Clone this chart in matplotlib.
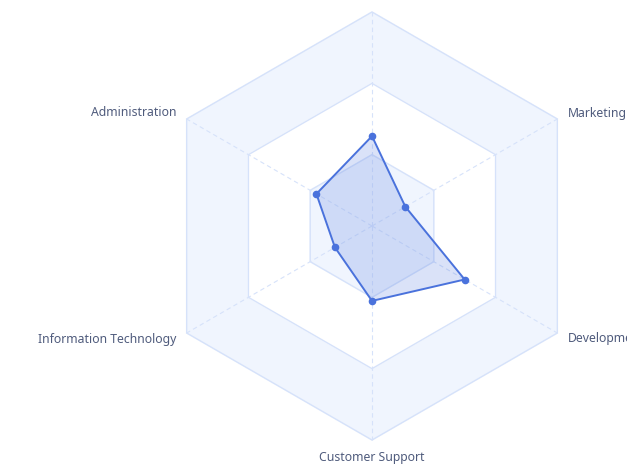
import numpy as np
import matplotlib.pyplot as plt

# radar indicators, clockwise from the top axis
indicators = ["Sales", "Marketing", "Development", "Customer Support",
              "Information Technology", "Administration"]
max_value = 100
values = [42, 18, 50, 35, 20, 30]

CX, CY, R = 372, 226, 214
LINE = "#4a72dc"
GRID = "#d6e2fa"
RING = "#f0f5fe"
TEXT = "#4f5b7c"

n = len(indicators)
angles = np.arange(n) * 2 * np.pi / n


def to_xy(frac):
    frac = np.asarray(frac, dtype=float)
    return CX + R * frac * np.sin(angles), CY - R * frac * np.cos(angles)


fig = plt.figure(figsize=(6.27, 4.72), dpi=100)
ax = fig.add_axes([0, 0, 1, 1])
ax.set_xlim(0, 627)
ax.set_ylim(472, 0)
ax.axis("off")

# split areas: outer ring tinted, middle white, inner tinted
levels = [1, 2 / 3, 1 / 3]
fills = [RING, "white", RING]
for lv, c in zip(levels, fills):
    x, y = to_xy(np.full(n, lv))
    ax.fill(x, y, color=c, zorder=1)
for lv in levels:
    x, y = to_xy(np.full(n, lv))
    ax.fill(x, y, facecolor="none", edgecolor=GRID, lw=1, zorder=2)

# axis lines
ox, oy = to_xy(np.ones(n))
for x, y in zip(ox, oy):
    ax.plot([CX, x], [CY, y], color=GRID, lw=0.8, ls=(0, (4, 3)), zorder=2)

# series
vx, vy = to_xy(np.array(values) / max_value)
ax.fill(vx, vy, color=LINE, alpha=0.2, lw=0, zorder=3)
ax.plot(np.append(vx, vx[0]), np.append(vy, vy[0]), color=LINE, lw=1.4, zorder=4)
ax.scatter(vx, vy, s=20, color=LINE, zorder=5)

# indicator names (the top one sits above the visible canvas in the reference)
lx, ly = to_xy(np.full(n, 226 / R))
for name, a, x, y in zip(indicators, angles, lx, ly):
    if np.cos(a) > 0.99:
        continue
    s = np.sin(a)
    ha = "left" if s > 0.1 else ("right" if s < -0.1 else "center")
    if abs(s) < 0.1:
        y += 5
    ax.text(x, y, name, ha=ha, va="center", fontsize=8.8, color=TEXT,
            family=["Noto Sans", "DejaVu Sans"])

fig.savefig("out.png", dpi=100)
